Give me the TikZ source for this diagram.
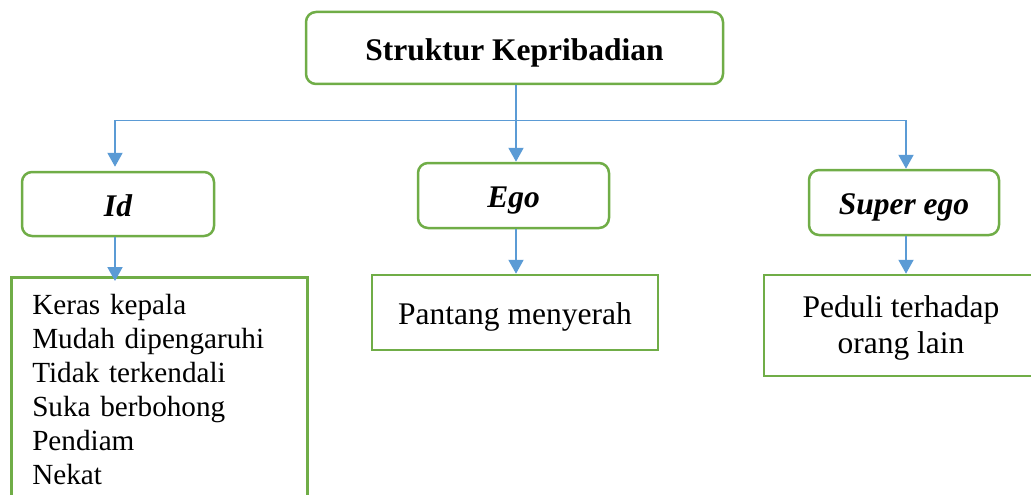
\documentclass[tikz,border=0pt]{standalone}
\usepackage{fontspec}
\setmainfont{Liberation Serif}
\usetikzlibrary{arrows.meta}
\tikzset{>={Triangle[width=15pt,length=14pt]}}
\definecolor{boxgreen}{RGB}{112,173,71}
\definecolor{linkblue}{RGB}{91,155,213}

\begin{document}
\begin{tikzpicture}[x=1pt, y=-1pt,
  rbox/.style={draw=boxgreen, line width=2.5pt, rounded corners=10pt, fill=white,
    inner sep=0pt, text height=28pt, text depth=4pt, font=\Hfont\bfseries},
  lbox/.style={draw=boxgreen, line width=2.5pt, fill=white, inner sep=0pt, font=\Hfont},
  link/.style={draw=linkblue, line width=2pt, ->}]

  \newcommand\Hfont{\fontsize{31.5}{36}\selectfont}
  \newcommand\Lfont{\fontsize{29.2}{34}\selectfont}

  \useasboundingbox (0,0) rectangle (1031,495);
  \clip (0,0) rectangle (1031,495);

  %% top
  \node[rbox, minimum width=417, minimum height=72] (struktur) at (514.5,48) {Struktur Kepribadian};

  %% second row
  \node[rbox, minimum width=192, minimum height=64] (id) at (118,204) {\itshape Id};
  \node[rbox, minimum width=191, minimum height=65] (ego) at (513.5,195.5) {\itshape Ego};
  \node[rbox, minimum width=190, minimum height=65] (superego) at (904,202.5) {\itshape Super ego};

  %% third row
  \node[lbox, anchor=north west, minimum width=296, minimum height=224, text width=254,
    inner xsep=21, align=left, font=\Lfont] (idlist) at (10,276)
    {Keras kepala\\ Mudah dipengaruhi\\ Tidak terkendali\\ Suka berbohong\\ Pendiam\\ Nekat};
  \node[lbox, minimum width=286, minimum height=75, text height=28pt, text depth=4pt] (egolist) at (515,312.5) {Pantang menyerah};
  \node[lbox, minimum width=274, minimum height=101, align=center] (superlist) at (901,325.5)
    {\rule{0pt}{26pt}Peduli terhadap\\ orang lain};

  %% connectors
  \coordinate (split) at (516,120);
  \coordinate (left) at (115,120);
  \coordinate (right) at (906,120);

  \draw[linkblue, line width=1pt] (left) -- (right);
  \draw[link] (struktur.south -| split) -- (split |- ego.north); % top -> ego
  \draw[link, shorten >=4pt] (left) -- (left |- id.north);       % -> id
  \draw[link] (right) -- (right |- superego.north);              % -> super ego

  \draw[link, shorten >=-5pt] (left |- id.south) -- (left |- idlist.north);
  \draw[link] (split |- ego.south) -- (split |- egolist.north);
  \draw[link] (right |- superego.south) -- (right |- superlist.north);

\end{tikzpicture}
\end{document}
